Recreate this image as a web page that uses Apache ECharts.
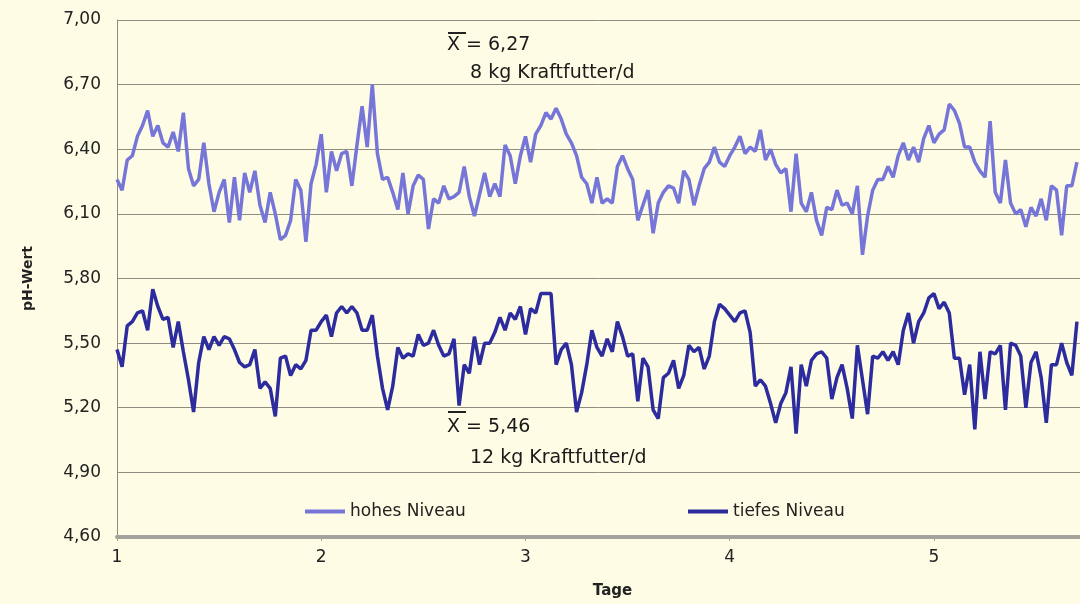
<!DOCTYPE html>
<html lang="de">
<head>
    <meta charset="UTF-8">
    <title>pH-Wert</title>
    <script src="https://cdn.jsdelivr.net/npm/echarts@6/dist/echarts.min.js"></script>
    <style>
        html, body { margin: 0; padding: 0; background: #fefce4; }
        #main { width: 1080px; height: 604px; }
    </style>
</head>
<body>
<div id="main"></div>
<script type="text/javascript">
    var hohes = [
        6.26, 6.21, 6.35, 6.37, 6.46, 6.51, 6.58, 6.46, 6.51, 6.43,
        6.41, 6.48, 6.39, 6.57, 6.31, 6.23, 6.26, 6.43, 6.24, 6.11,
        6.20, 6.26, 6.06, 6.27, 6.07, 6.29, 6.20, 6.30, 6.14, 6.06,
        6.20, 6.10, 5.98, 6.00, 6.07, 6.26, 6.21, 5.97, 6.24, 6.33,
        6.47, 6.20, 6.39, 6.30, 6.38, 6.39, 6.23, 6.42, 6.60, 6.41,
        6.70, 6.38, 6.26, 6.27, 6.20, 6.12, 6.29, 6.10, 6.23, 6.28,
        6.26, 6.03, 6.17, 6.15, 6.23, 6.17, 6.18, 6.20, 6.32, 6.18,
        6.09, 6.19, 6.29, 6.18, 6.24, 6.18, 6.42, 6.37, 6.24, 6.37,
        6.46, 6.34, 6.47, 6.51, 6.57, 6.54, 6.59, 6.54, 6.47, 6.43,
        6.37, 6.27, 6.24, 6.15, 6.27, 6.15, 6.17, 6.15, 6.32, 6.37,
        6.31, 6.26, 6.07, 6.14, 6.21, 6.01, 6.15, 6.20, 6.23, 6.22,
        6.15, 6.30, 6.26, 6.14, 6.23, 6.31, 6.34, 6.41, 6.34, 6.32,
        6.37, 6.41, 6.46, 6.38, 6.41, 6.39, 6.49, 6.35, 6.40, 6.33,
        6.29, 6.31, 6.11, 6.38, 6.15, 6.11, 6.20, 6.07, 6.00, 6.13,
        6.12, 6.21, 6.14, 6.15, 6.10, 6.23, 5.91, 6.09, 6.21, 6.26,
        6.26, 6.32, 6.27, 6.37, 6.43, 6.35, 6.41, 6.34, 6.45, 6.51,
        6.43, 6.47, 6.49, 6.61, 6.58, 6.52, 6.41, 6.41, 6.34, 6.30,
        6.27, 6.53, 6.20, 6.15, 6.35, 6.15, 6.10, 6.12, 6.04, 6.13,
        6.09, 6.17, 6.07, 6.23, 6.21, 6.00, 6.23, 6.23, 6.34
    ];
    var tiefes = [
        5.47, 5.39, 5.58, 5.60, 5.64, 5.65, 5.56, 5.75, 5.67, 5.61,
        5.62, 5.48, 5.60, 5.46, 5.33, 5.18, 5.41, 5.53, 5.47, 5.53,
        5.49, 5.53, 5.52, 5.47, 5.41, 5.39, 5.40, 5.47, 5.29, 5.32,
        5.29, 5.16, 5.43, 5.44, 5.35, 5.40, 5.38, 5.42, 5.56, 5.56,
        5.60, 5.63, 5.53, 5.64, 5.67, 5.64, 5.67, 5.64, 5.56, 5.56,
        5.63, 5.44, 5.29, 5.19, 5.30, 5.48, 5.43, 5.45, 5.44, 5.54,
        5.49, 5.50, 5.56, 5.49, 5.44, 5.45, 5.52, 5.21, 5.40, 5.36,
        5.53, 5.40, 5.50, 5.50, 5.55, 5.62, 5.56, 5.64, 5.61, 5.67,
        5.54, 5.66, 5.64, 5.73, 5.73, 5.73, 5.40, 5.47, 5.50, 5.40,
        5.18, 5.27, 5.40, 5.56, 5.48, 5.44, 5.52, 5.46, 5.60, 5.53,
        5.44, 5.45, 5.23, 5.43, 5.39, 5.19, 5.15, 5.34, 5.36, 5.42,
        5.29, 5.35, 5.49, 5.46, 5.48, 5.38, 5.44, 5.60, 5.68, 5.66,
        5.63, 5.60, 5.64, 5.65, 5.55, 5.30, 5.33, 5.30, 5.22, 5.13,
        5.22, 5.27, 5.39, 5.08, 5.40, 5.30, 5.42, 5.45, 5.46, 5.43,
        5.24, 5.34, 5.40, 5.29, 5.15, 5.49, 5.33, 5.17, 5.44, 5.43,
        5.46, 5.42, 5.46, 5.40, 5.56, 5.64, 5.50, 5.60, 5.64, 5.71,
        5.73, 5.66, 5.69, 5.64, 5.43, 5.43, 5.26, 5.40, 5.10, 5.46,
        5.24, 5.46, 5.45, 5.49, 5.19, 5.50, 5.49, 5.44, 5.20, 5.41,
        5.46, 5.34, 5.13, 5.40, 5.40, 5.50, 5.41, 5.35, 5.60
    ];
    var seriesNames = ['hohes Niveau', 'tiefes Niveau'];
    var tageStart = 1;
    var tageSchritt = 0.025;

    var fontName = '"DejaVu Sans", "Liberation Sans", sans-serif';

    function paare(werte) {
        return werte.map(function (v, i) {
            return [tageStart + i * tageSchritt, v];
        });
    }

    var myChart = echarts.init(document.getElementById('main'));
    var option = {
        backgroundColor: '#fefce4',
        animation: false,
        grid: {left: 117, right: 0, top: 20, bottom: 66},
        legend: [
            {
                data: [seriesNames[0]], left: 305, top: 503, padding: 0,
                icon: 'rect', itemWidth: 40, itemHeight: 4,
                textStyle: {fontSize: 17, color: '#222', fontFamily: fontName}
            },
            {
                data: [seriesNames[1]], left: 688, top: 503, padding: 0,
                icon: 'rect', itemWidth: 40, itemHeight: 4,
                textStyle: {fontSize: 17, color: '#222', fontFamily: fontName}
            }
        ],
        xAxis: {
            type: 'value',
            min: 1,
            max: 5.715,
            interval: 1,
            name: 'Tage',
            nameLocation: 'middle',
            nameGap: 47,
            nameTextStyle: {fontSize: 15, fontWeight: 'bold', color: '#222', fontFamily: fontName, padding: [0, 0, 0, 28]},
            axisLine: {show: true, lineStyle: {color: '#a3a39b', width: 4}},
            axisTick: {show: true, length: 4, lineStyle: {color: '#a3a39b'}},
            axisLabel: {fontSize: 17, color: '#222', fontFamily: fontName, margin: 12, showMaxLabel: false},
            splitLine: {show: false}
        },
        yAxis: {
            type: 'value',
            min: 4.6,
            max: 7.0,
            interval: 0.3,
            name: 'pH-Wert',
            nameLocation: 'middle',
            nameGap: 82,
            nameTextStyle: {fontSize: 14, fontWeight: 'bold', color: '#222', fontFamily: fontName},
            axisLine: {show: true, lineStyle: {color: '#8a8a80', width: 1}},
            axisTick: {show: false},
            axisLabel: {
                fontSize: 17, color: '#222', fontFamily: fontName, margin: 16,
                formatter: function (v) {
                    return v.toFixed(2).replace('.', ',');
                }
            },
            splitLine: {show: true, lineStyle: {color: '#8e8e80', width: 1}}
        },
        graphic: [
            {type: 'line', shape: {x1: 448, y1: 33, x2: 466, y2: 33}, style: {stroke: '#222', lineWidth: 2}},
            {type: 'text', left: 447, top: 36, style: {text: 'X = 6,27', fontSize: 19, fill: '#1a1a1a', fontFamily: fontName}},
            {type: 'text', left: 470, top: 64, style: {text: '8 kg Kraftfutter/d', fontSize: 19, fill: '#1a1a1a', fontFamily: fontName}},
            {type: 'line', shape: {x1: 448, y1: 412, x2: 466, y2: 412}, style: {stroke: '#222', lineWidth: 2}},
            {type: 'text', left: 447, top: 418, style: {text: 'X = 5,46', fontSize: 19, fill: '#1a1a1a', fontFamily: fontName}},
            {type: 'text', left: 470, top: 449, style: {text: '12 kg Kraftfutter/d', fontSize: 19, fill: '#1a1a1a', fontFamily: fontName}}
        ],
        series: [
            {
                name: seriesNames[0],
                type: 'line',
                showSymbol: false,
                color: '#7676d9',
                lineStyle: {width: 3.5, color: '#7676d9'},
                data: paare(hohes)
            },
            {
                name: seriesNames[1],
                type: 'line',
                showSymbol: false,
                color: '#2c2c9e',
                lineStyle: {width: 3.5, color: '#2c2c9e'},
                data: paare(tiefes)
            }
        ]
    };
    myChart.setOption(option);
</script>
</body>
</html>
